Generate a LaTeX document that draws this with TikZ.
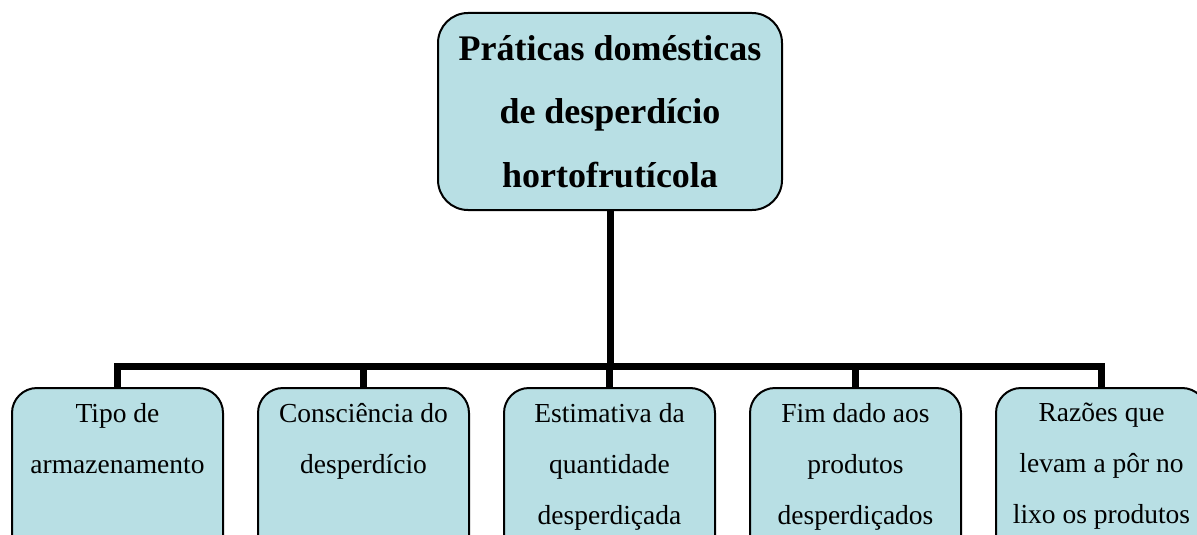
\documentclass[tikz,border=0pt]{standalone}
\usepackage{fontspec}
\setmainfont{Liberation Serif}
\usetikzlibrary{positioning}
\definecolor{caixa}{RGB}{184,223,228}
\tikzset{
  raiz/.style={draw, line width=2pt, fill=caixa, rounded corners=30pt, minimum width=344pt, minimum height=197pt,
    align=center, inner sep=0pt, font=\fontsize{36}{63.5}\selectfont\bfseries},
  ramo/.style={draw, line width=2pt, fill=caixa, rounded corners=25pt, minimum width=211pt, minimum height=175pt, anchor=north},
  ramotexto/.style={align=center, inner sep=0pt, anchor=north, yshift=-16pt, font=\fontsize{27.5}{51}\selectfont},
  ligacao/.style={line width=7pt}
}
\begin{document}
\begin{tikzpicture}[x=1pt, y=-1pt, node distance=33pt]
  \useasboundingbox (0,0) rectangle (1197,535);
  \clip (0,0) rectangle (1197,535);

  \node[raiz] (raiz) at (610,111.5) {Práticas domésticas\\de desperdício\\hortofrutícola};

  \node[ramo, label={[ramotexto]north:Tipo de\\armazenamento}] (tipo) at (117.5,387) {};
  \node[ramo, right=of tipo, label={[ramotexto]north:Consciência do\\desperdício}] (consc) {};
  \node[ramo, right=of consc, label={[ramotexto]north:Estimativa da\\quantidade\\desperdiçada}] (estim) {};
  \node[ramo, right=of estim, label={[ramotexto]north:Fim dado aos\\produtos\\desperdiçados}] (fim) {};
  \node[ramo, right=of fim, label={[ramotexto]north:Razões que\\levam a pôr no\\lixo os produtos}] (razoes) {};

  % ligações
  \coordinate (barra) at (0,366);
  \draw[ligacao] (raiz.south) -- (raiz.south |- barra);
  \draw[ligacao] (tipo.north) -- (tipo.north |- barra) -- (razoes.north |- barra) -- (razoes.north);
  \foreach \n in {consc, estim, fim}
    \draw[ligacao] (\n.north) -- (\n.north |- barra);
\end{tikzpicture}
\end{document}
